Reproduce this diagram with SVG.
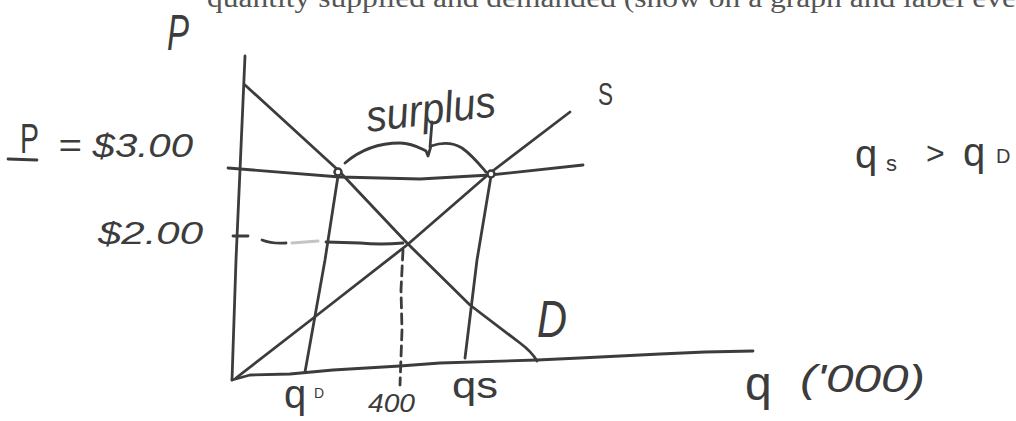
<svg xmlns="http://www.w3.org/2000/svg" width="1016" height="421" viewBox="0 0 1016 421">
<style>
.ln{fill:none;stroke:#3c3c3c;stroke-width:2.8;stroke-linecap:round;stroke-linejoin:round}
.faint{fill:none;stroke:#c4c4c4;stroke-width:3;stroke-linecap:round}
.hw{font-family:"Liberation Sans","DejaVu Sans",sans-serif;fill:#3c3c3c}
.pr{font-family:"Liberation Serif","DejaVu Serif",serif;fill:#555}
.dot{fill:#fff;stroke:#3c3c3c;stroke-width:2.5}
</style>
<rect width="1016" height="421" fill="#fff"/>
<text class="pr" x="207" y="7" font-size="28" textLength="809" lengthAdjust="spacingAndGlyphs">quantity supplied and demanded (show on a graph and label eve</text>

<g id="axes">
  <path class="ln" d="M245,56 L240,170 L236,260 L232,380"/>
  <path class="ln" d="M232,380 L250,375 L290,374 L333,370 L400,366 L440,363 L537,360 L580,358 L660,354 L705,352 L753,351"/>
</g>

<g id="connectors">
  <path id="supply" class="ln" d="M236,378 L316,316 L407,245 L490,173 L570,112"/>
  <path id="demand" class="ln" d="M245,85 L338,170 L407,243 L470,305 L520,343 Q532,352 537,361"/>
  <path id="price3" class="ln" d="M228,168 L340,177 L420,179 L490,175 L583,165"/>
  <path id="qd-line" class="ln" d="M338,176 L325,260 L305,372"/>
  <path id="qs-line" class="ln" d="M491,176 L477,260 L465,358"/>
  <path id="q400-line" class="ln" d="M403,250 L401,290 L402,330 L400,385" stroke-dasharray="10 6"/>
  <path id="tick2" class="ln" d="M233,236 L248,236"/>
  <path class="ln" d="M262,240 Q272,244 286,243"/>
  <path class="faint" d="M292,243 L318,241"/>
  <path class="ln" d="M326,242 L360,243 Q380,245 403,243"/>
  <path id="surplus-brace" class="ln" d="M345,163 C360,150 380,143 400,143 C412,143 420,148 426,151 L428,156 L431,146 C440,143 452,142 462,148 C472,155 480,165 486,172 M430,147 L432,122"/>
  <path id="p-underline" class="ln" d="M8,159 L37,160"/>
  <circle class="dot" cx="338" cy="172" r="3.5"/>
  <circle class="dot" cx="491" cy="174" r="3.5"/>
</g>

<g id="label-P-axis"><text class="hw" x="167" y="50" font-size="50" font-style="italic" textLength="22" lengthAdjust="spacingAndGlyphs">P</text></g>
<g id="label-price3">
  <text class="hw" x="20" y="153" font-size="42" textLength="19" lengthAdjust="spacingAndGlyphs">P</text>
  <text class="hw" x="58" y="157" font-size="34" font-style="italic" textLength="135" lengthAdjust="spacingAndGlyphs">= $3.00</text>
</g>
<g id="label-price2"><text class="hw" x="98" y="244" font-size="32" font-style="italic" textLength="105" lengthAdjust="spacingAndGlyphs">$2.00</text></g>
<g id="label-surplus"><text class="hw" x="368" y="132" font-size="44" font-style="italic" transform="rotate(-7 368 132)" textLength="130" lengthAdjust="spacingAndGlyphs">surplus</text></g>
<g id="label-S"><text class="hw" x="598" y="105" font-size="32" textLength="15" lengthAdjust="spacingAndGlyphs">S</text></g>
<g id="label-D"><text class="hw" x="537" y="337" font-size="52" font-style="italic" textLength="30" lengthAdjust="spacingAndGlyphs">D</text></g>
<g id="label-qs-gt-qd">
  <text class="hw" x="855" y="168" font-size="40">q</text>
  <text class="hw" x="886" y="171" font-size="22">s</text>
  <text class="hw" x="926" y="164" font-size="32">&gt;</text>
  <text class="hw" x="963" y="166" font-size="40">q</text>
  <text class="hw" x="996" y="163" font-size="20">D</text>
</g>
<g id="label-qD">
  <text class="hw" x="284" y="408" font-size="40">q</text>
  <text class="hw" x="314" y="398" font-size="14">D</text>
</g>
<g id="label-400"><text class="hw" x="368" y="412" font-size="26" font-style="italic" textLength="47" lengthAdjust="spacingAndGlyphs">400</text></g>
<g id="label-qS"><text class="hw" x="452" y="398" font-size="36" textLength="46" lengthAdjust="spacingAndGlyphs">qs</text></g>
<g id="label-q-axis">
  <text class="hw" x="745" y="400" font-size="48">q</text>
  <text class="hw" x="800" y="392" font-size="38" font-style="italic" textLength="125" lengthAdjust="spacingAndGlyphs">('000)</text>
</g>
</svg>
